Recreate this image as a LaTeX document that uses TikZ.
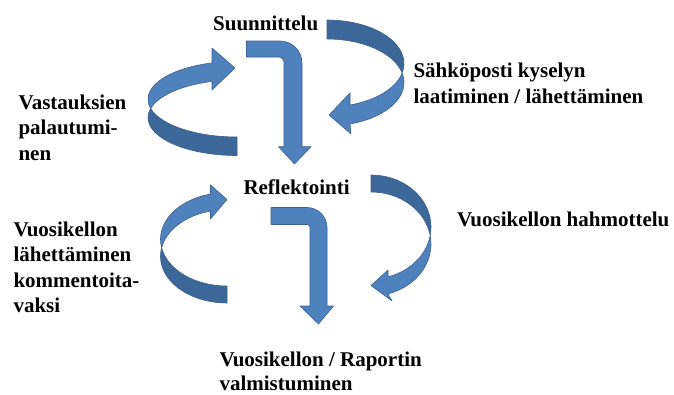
\documentclass[tikz,border=0pt]{standalone}
\usepackage{fontspec}
\setmainfont{Liberation Serif}
\definecolor{front}{HTML}{4F81BD}
\definecolor{back}{HTML}{3C6899}
\definecolor{edge}{HTML}{3A6190}

\begin{document}
\begin{tikzpicture}[x=1pt,y=-1pt,
  frontface/.style={fill=front,draw=edge,line width=0.6pt,line join=round},
  backface/.style={frontface,fill=back},
  lbl/.style={font=\bfseries\fontsize{21}{25.3}\selectfont,align=left,anchor=north west,inner sep=0pt}]
\useasboundingbox (0,0) rectangle (674,394);
\draw[backface] (237,137) arc[start angle=90,end angle=165.84,x radius=89,y radius=37.8]
  arc[start angle=194.16,end angle=90,x radius=89,y radius=37.8] -- cycle;
\draw[frontface] (150.71,108.45) arc[start angle=165.84,end angle=253.7,x radius=89,y radius=37.8]
  -- (212,48) -- (235,68) -- (212,90) -- (212,81.42)
  arc[start angle=253.7,end angle=194.16,x radius=89,y radius=37.8] -- cycle;
\draw[backface] (327,20) arc[start angle=270,end angle=372.61,x radius=77,y radius=43.5]
  arc[start angle=347.39,end angle=270,x radius=77,y radius=43.5] -- cycle;
\draw[frontface] (402.14,73) arc[start angle=-12.61,end angle=72.62,x radius=77,y radius=43.5]
  -- (351,134) -- (329,115) -- (350,93) -- (350,105)
  arc[start angle=72.62,end angle=12.61,x radius=77,y radius=43.5] -- cycle;
\draw[backface] (227,286) arc[start angle=90,end angle=169.51,x radius=66.5,y radius=46.7]
  arc[start angle=190.49,end angle=90,x radius=66.5,y radius=46.7] -- cycle;
\draw[frontface] (161.61,247.8) arc[start angle=169.51,end angle=255.63,x radius=66.5,y radius=46.7]
  -- (210.5,185) -- (227,199.5) -- (210.5,219) -- (210.5,211.06)
  arc[start angle=255.63,end angle=190.49,x radius=66.5,y radius=46.7] -- cycle;
\draw[backface] (371,175) arc[start angle=270,end angle=369.41,x radius=60,y radius=52]
  arc[start angle=350.59,end angle=270,x radius=60,y radius=52] -- cycle;
\draw[frontface] (430.19,235.5) arc[start angle=-9.41,end angle=73.54,x radius=60,y radius=52]
  -- (392,301) -- (371,285.5) -- (388,270) -- (388,276.87)
  arc[start angle=73.54,end angle=9.41,x radius=60,y radius=52] -- cycle;
\draw[frontface] (246.5,41) -- (280,41) arc[start angle=270,end angle=360,radius=22]
  -- (302,146.7) -- (311,146.7) -- (294.5,164) -- (278.5,146.7) -- (284,146.7) -- (284,62)
  arc[start angle=360,end angle=270,radius=5] -- (246.5,57) -- cycle;
\draw[frontface] (271,207.5) -- (307,207.5) arc[start angle=270,end angle=360,radius=20]
  -- (327,306) -- (333.5,306) -- (318.5,324) -- (300,306) -- (310,306) -- (310,227.5)
  arc[start angle=360,end angle=270,radius=3] -- (271,224.5) -- cycle;
\node[lbl] (suun) at (213,15.8) {Suunnittelu};
\node[lbl] (refl) at (243.3,179.1) {Reflektointi};
\node[lbl] (kysely) at (413.3,63.1) {Sähköposti kyselyn\\laatiminen / lähettäminen};
\node[lbl] (vast) at (18.3,94.8) {Vastauksien\\palautumi-\\nen};
\node[lbl] (hahm) at (457,211.8) {Vuosikellon hahmottelu};
\node[lbl] (lahet) at (13.3,221.8) {Vuosikellon\\lähettäminen\\kommentoita-\\vaksi};
\node[lbl] (valm) at (219.3,351.5) {Vuosikellon / Raportin\\[-1.5pt]valmistuminen};
\end{tikzpicture}
\end{document}
